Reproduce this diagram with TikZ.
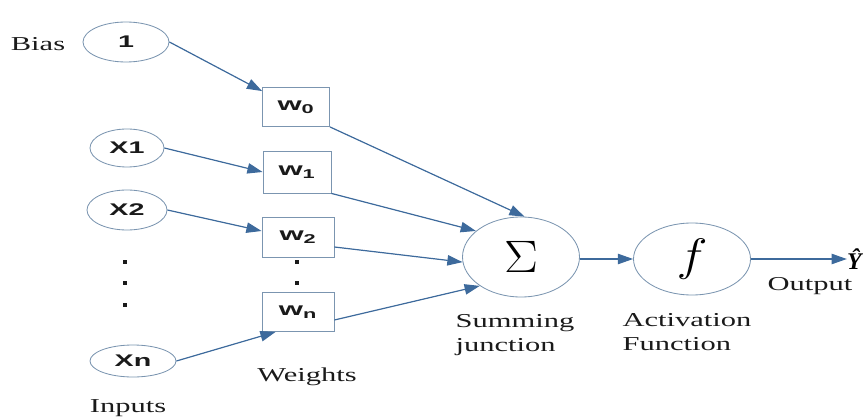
\documentclass[tikz,border=0pt]{standalone}
\usepackage{fontspec}
\setmainfont{Liberation Serif}
\setsansfont{Liberation Sans}
\newfontfamily\lblfont[FakeStretch=1.55]{Liberation Serif}
\newfontfamily\nodefont[FakeStretch=1.7]{Liberation Sans}
\usepackage{graphicx}
\usepackage{tikz}
\usepackage{xcolor}
\usetikzlibrary{arrows.meta,positioning,shapes,calc}
\definecolor{ink}{HTML}{1A1A1A}
\definecolor{edgeblue}{HTML}{7B95B0}
\definecolor{arrowblue}{HTML}{3D6A9C}
\tikzset{
  inpnode/.style={ellipse,draw=edgeblue,line width=0.6pt,inner sep=0pt,
                  font=\nodefont\bfseries\fontsize{12}{14}\selectfont,text=ink},
  wbox/.style={rectangle,draw=edgeblue,line width=0.6pt,inner sep=0pt,
               font=\nodefont\bfseries\fontsize{13}{15}\selectfont,text=ink},
  opnode/.style={ellipse,draw=edgeblue,line width=0.6pt,inner sep=0pt,
                 minimum width=2.925cm,font=\fontsize{24.88}{28}\selectfont},
  lbl/.style={font=\lblfont\fontsize{14}{16}\selectfont,text=ink,align=left},
  biglbl/.style={font=\lblfont\fontsize{14}{17}\selectfont,text=ink,align=left,
                 inner sep=0pt},
  dotnode/.style={rectangle,fill=ink,inner sep=0pt,minimum size=2.4pt},
  bluearr/.style={-{Triangle[length=3.8mm,width=2.6mm]},line width=0.85pt,
                  draw=arrowblue,fill=arrowblue}
}
\begin{document}
\begin{tikzpicture}[x=1cm,y=1cm]
    \path[use as bounding box] (0,0) rectangle (21.575,10.475);
    % inputs
    \node[lbl] (bias) at (0.95,9.375) {Bias};
    \node[inpnode,minimum width=2.15cm,minimum height=1.0cm] (one) at (3.15,9.425) {1};
    \node[inpnode,minimum width=1.85cm,minimum height=0.95cm] (x1) at (3.175,6.775) {X1};
    \node[inpnode,minimum width=2.0cm,minimum height=1.0cm] (x2) at (3.175,5.225) {X2};
    \node[inpnode,minimum width=2.15cm,minimum height=0.8cm] (xn) at (3.325,1.45) {Xn};
    \node[dotnode] (ld1) at (3.125,3.925) {};
    \node[dotnode] (ld2) at (3.125,3.4) {};
    \node[dotnode] (ld3) at (3.125,2.85) {};
    \node[lbl] (inputs) at (3.2,0.275) {Inputs};
    % weights
    \node[wbox,minimum width=1.675cm,minimum height=0.975cm] (w0) at (7.4,7.8) {w\textsubscript{0}};
    \node[wbox,minimum width=1.7cm,minimum height=1.05cm] (w1) at (7.425,6.175) {w\textsubscript{1}};
    \node[wbox,minimum width=1.8cm,minimum height=1.0cm] (w2) at (7.45,4.55) {w\textsubscript{2}};
    \node[wbox,minimum width=1.8cm,minimum height=0.975cm] (wn) at (7.45,2.675) {w\textsubscript{n}};
    \node[dotnode] (rd1) at (7.425,3.925) {};
    \node[dotnode] (rd2) at (7.425,3.4) {};
    \node[lbl] (weights) at (7.675,1.05) {Weights};
    % summing and activation
    \node[opnode,minimum height=2.0cm] (sum) at (13.025,4.05)
      {\scalebox{1.45}[1.3]{$\Sigma$}};
    \node[opnode,minimum height=1.8cm] (act) at (17.3,4.0)
      {\scalebox{1.5}[1.3]{$f$}};
    \node[biglbl] (sumlbl) at (12.875,2.1) {Summing\\junction};
    \node[biglbl] (actlbl) at (17.175,2.175) {Activation\\Function};
    \node[inner sep=0pt,anchor=west,font=\fontsize{17}{19}\selectfont\bfseries\itshape] (yhat) at (21.17,4.0) {Ŷ};
    \node[lbl] (output) at (20.25,3.325) {Output};
    % connectors
    \draw[bluearr] (one.east) -- ([yshift=-0.1cm]w0.north west);
    \draw[bluearr] (x1.east) -- (w1.west);
    \draw[bluearr] (x2.east) -- ([yshift=0.15cm]w2.west);
    \draw[bluearr] (xn.east) -- ([xshift=0.35cm]wn.south west);
    \draw[bluearr] (w0.south east) -- (sum.85);
    \draw[bluearr] (w1.south east) -- (sum.150);
    \draw[bluearr] ([yshift=-0.25cm]w2.east) -- (sum.185);
    \draw[bluearr] ([yshift=-0.2cm]wn.east) -- (sum.215);
    \draw[bluearr] (sum.east |- act.west) -- (act.west);
    \draw[bluearr] (act.east) -- (yhat.west);
  \end{tikzpicture}
\end{document}
